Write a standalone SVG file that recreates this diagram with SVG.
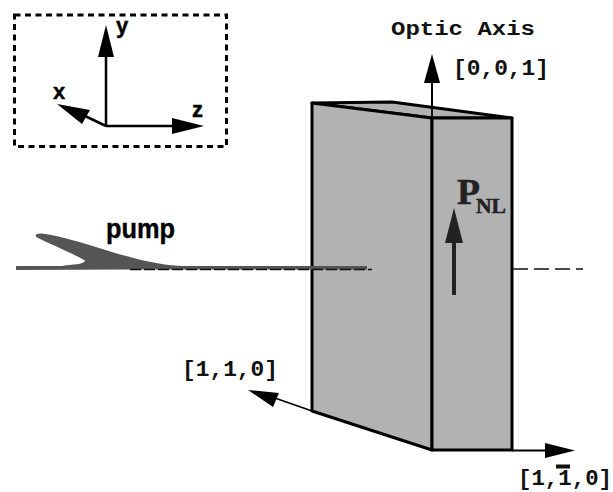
<svg xmlns="http://www.w3.org/2000/svg" width="613" height="492" viewBox="0 0 613 492">
<style>
.s{font-family:"Liberation Sans",Arial,sans-serif;font-weight:bold;fill:#000;stroke:#000;stroke-width:.4}
.m{font-family:"Liberation Mono","Courier New",monospace;font-weight:bold;fill:#111;font-size:22px}
.p{font-family:"Liberation Serif","Times New Roman",serif;font-weight:bold;fill:#222;stroke:#222;stroke-width:.5}
.l{fill:none;stroke:#000}
.f{fill:#b2b2b2;stroke:#000;stroke-width:3;stroke-linejoin:round}
</style>
<rect width="613" height="492" fill="#fff"/>
<g id="inset">
<rect x="14.500" y="15" width="212" height="131.500" fill="none" stroke="#000" stroke-width="3" stroke-dasharray="6 4.500"/>
<path class="l" stroke-width="2.500" d="M106 126V55M106 126H175M106 126L85 116"/>
<path d="M106 25L114 57H98ZM204 126L172 118V134ZM57 104L90 110L82 124Z" fill="#000"/>
<text class="s" x="116" y="33" font-size="22">y</text>
<text class="s" x="53" y="99" font-size="22">x</text>
<text class="s" x="192" y="117" font-size="22">z</text>
</g>
<g id="connectors">
<path class="l" stroke-width="1.800" d="M432 118V80M512 450.500H548M312 411L272 397"/>
<path d="M432 54L440 83H424ZM575 450.500L545 443V458ZM248 390L279 393L273 407Z" fill="#000"/>
</g>
<g id="crystal">
<path class="f" d="M312 103L392 102L512 118L432 118Z"/>
<path class="f" d="M312 103L432 118V450L312 411Z"/>
<path class="f" d="M432 118H512V450H432Z"/>
<line x1="432" y1="80" x2="432" y2="118" stroke="#000" stroke-width="1.800"/>
</g>
<g id="pump">
<path d="M16 266H62C72 264 84 265 85 260.500C72 253 50 244 37 237.500C34 235 36 233 42 233.500C62 236 90 245 115 253C140 260 160 265 182 266H367V269.500H130L16 270Z" fill="#555"/>
<path d="M130 269.500H372" fill="none" stroke="#111" stroke-width="1.500" stroke-dasharray="11 3"/>
<text class="s" x="106" y="238" font-size="28" stroke-width="0" textLength="69" lengthAdjust="spacingAndGlyphs">pump</text>
</g>
<g id="beam-out">
<path d="M513 269H583" fill="none" stroke="#111" stroke-width="1.500" stroke-dasharray="15 6"/>
</g>
<g id="pnl">
<path d="M454 295V240" stroke="#222" stroke-width="4" fill="none"/>
<path d="M454 208L463 243H445Z" fill="#222"/>
<text class="p" x="457" y="204" font-size="36" textLength="23" lengthAdjust="spacingAndGlyphs">P</text>
<text class="p" x="476" y="213" font-size="20" textLength="30" lengthAdjust="spacingAndGlyphs">NL</text>
</g>
<g id="labels">
<text class="m" x="391" y="35" style="font-size:20px" textLength="144" lengthAdjust="spacingAndGlyphs">Optic Axis</text>
<text class="m" x="453" y="75" textLength="96" lengthAdjust="spacingAndGlyphs">[0,0,1]</text>
<text class="m" x="182" y="376" textLength="96" lengthAdjust="spacingAndGlyphs">[1,1,0]</text>
<text class="m" x="518" y="485" textLength="94" lengthAdjust="spacingAndGlyphs">[1,1,0]</text>
<rect x="556" y="464.500" width="14" height="4" fill="#111"/>
</g>
</svg>
